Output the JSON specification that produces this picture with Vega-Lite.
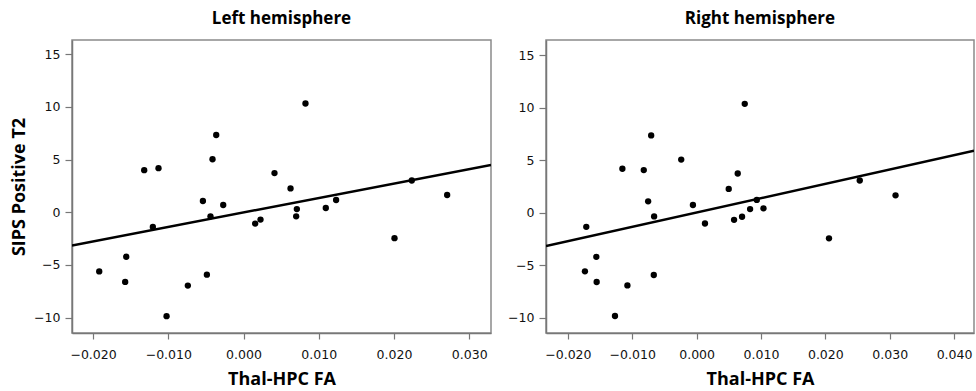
{
  "$schema": "https://vega.github.io/schema/vega-lite/v6.json",
  "padding": {"left": 9, "top": 9, "right": 0, "bottom": 0},
  "background": "white",
  "config": {
    "view": {"stroke": "#8a8a8a", "strokeWidth": 1.5},
    "axis": {"grid": false, "domainColor": "#777", "domainWidth": 1.5, "tickColor": "#777", "tickWidth": 1.2, "labelFont": "DejaVu Sans", "labelFontSize": 12.5, "labelColor": "#111", "titleFont": "Open Sans", "titleFontWeight": "bold", "titleFontSize": 18, "titleColor": "#000"},
    "title": {"font": "Open Sans", "fontWeight": "bold", "fontSize": 17, "color": "#000"},
    "concat": {"spacing": 14}
  },
  "datasets": {
    "left": [
      {"fa": -0.01918, "sips": -5.61}, {"fa": -0.01573, "sips": -6.61}, {"fa": -0.01559, "sips": -4.22},
      {"fa": -0.0132, "sips": 4.0}, {"fa": -0.0113, "sips": 4.19}, {"fa": -0.01205, "sips": -1.39},
      {"fa": -0.01023, "sips": -9.86}, {"fa": -0.0074, "sips": -6.96}, {"fa": -0.0054, "sips": 1.07},
      {"fa": -0.00487, "sips": -5.92}, {"fa": -0.00439, "sips": -0.38}, {"fa": -0.00412, "sips": 5.04},
      {"fa": -0.00363, "sips": 7.34}, {"fa": -0.0027, "sips": 0.69}, {"fa": 0.00155, "sips": -1.07},
      {"fa": 0.00226, "sips": -0.69}, {"fa": 0.00412, "sips": 3.72}, {"fa": 0.00625, "sips": 2.27},
      {"fa": 0.007, "sips": -0.38}, {"fa": 0.00709, "sips": 0.31}, {"fa": 0.00824, "sips": 10.33},
      {"fa": 0.01094, "sips": 0.41}, {"fa": 0.01231, "sips": 1.17}, {"fa": 0.02007, "sips": -2.46},
      {"fa": 0.02237, "sips": 3.02}, {"fa": 0.02707, "sips": 1.64}
    ],
    "right": [
      {"fa": -0.01714, "sips": -1.34}, {"fa": -0.01735, "sips": -5.57}, {"fa": -0.01558, "sips": -4.19},
      {"fa": -0.01553, "sips": -6.59}, {"fa": -0.01268, "sips": -9.82}, {"fa": -0.01153, "sips": 4.19},
      {"fa": -0.01075, "sips": -6.91}, {"fa": -0.00821, "sips": 4.06}, {"fa": -0.00753, "sips": 1.09},
      {"fa": -0.00706, "sips": 7.36}, {"fa": -0.00665, "sips": -5.92}, {"fa": -0.0066, "sips": -0.35},
      {"fa": -0.00239, "sips": 5.06}, {"fa": -0.00057, "sips": 0.74}, {"fa": 0.0013, "sips": -1.02},
      {"fa": 0.00499, "sips": 2.27}, {"fa": 0.00582, "sips": -0.67}, {"fa": 0.00639, "sips": 3.74},
      {"fa": 0.00706, "sips": -0.38}, {"fa": 0.00748, "sips": 10.37}, {"fa": 0.00831, "sips": 0.35},
      {"fa": 0.00935, "sips": 1.22}, {"fa": 0.01039, "sips": 0.42}, {"fa": 0.02057, "sips": -2.43},
      {"fa": 0.02535, "sips": 3.07}, {"fa": 0.03091, "sips": 1.66}
    ],
    "leftFit": [{"fa": -0.0228, "sips": -3.15}, {"fa": 0.0329, "sips": 4.5}],
    "rightFit": [{"fa": -0.0234, "sips": -3.17}, {"fa": 0.0431, "sips": 5.9}]
  },
  "hconcat": [
    {
      "title": {"text": "Left hemisphere", "offset": 12},
      "width": 419,
      "height": 293,
      "layer": [
        {
          "data": {"name": "left"},
          "mark": {"type": "circle", "size": 40, "color": "#000", "opacity": 1},
          "encoding": {
            "x": {"field": "fa", "type": "quantitative", "scale": {"domain": [-0.0228, 0.0329], "nice": false, "zero": false},
                  "axis": {"values": [-0.02, -0.01, 0, 0.01, 0.02, 0.03], "format": ".3f", "title": "Thal-HPC FA", "tickSize": 6, "labelPadding": 9, "titlePadding": 10}},
            "y": {"field": "sips", "type": "quantitative", "scale": {"domain": [-11.46, 16.36], "nice": false, "zero": false},
                  "axis": {"values": [-10, -5, 0, 5, 10, 15], "title": "SIPS Positive T2", "tickSize": 7, "labelPadding": 5, "titlePadding": 5}}
          }
        },
        {
          "data": {"name": "leftFit"},
          "mark": {"type": "line", "color": "#000", "strokeWidth": 2.5, "clip": true},
          "encoding": {
            "x": {"field": "fa", "type": "quantitative"},
            "y": {"field": "sips", "type": "quantitative"}
          }
        }
      ]
    },
    {
      "title": {"text": "Right hemisphere", "offset": 12},
      "width": 428,
      "height": 293,
      "layer": [
        {
          "data": {"name": "right"},
          "mark": {"type": "circle", "size": 40, "color": "#000", "opacity": 1},
          "encoding": {
            "x": {"field": "fa", "type": "quantitative", "scale": {"domain": [-0.0234, 0.0431], "nice": false, "zero": false},
                  "axis": {"values": [-0.02, -0.01, 0, 0.01, 0.02, 0.03, 0.04], "format": ".3f", "title": "Thal-HPC FA", "tickSize": 6, "labelPadding": 9, "titlePadding": 10}},
            "y": {"field": "sips", "type": "quantitative", "scale": {"domain": [-11.44, 16.44], "nice": false, "zero": false},
                  "axis": {"values": [-10, -5, 0, 5, 10, 15], "title": null, "tickSize": 7, "labelPadding": 5}}
          }
        },
        {
          "data": {"name": "rightFit"},
          "mark": {"type": "line", "color": "#000", "strokeWidth": 2.5, "clip": true},
          "encoding": {
            "x": {"field": "fa", "type": "quantitative"},
            "y": {"field": "sips", "type": "quantitative"}
          }
        }
      ]
    }
  ]
}
